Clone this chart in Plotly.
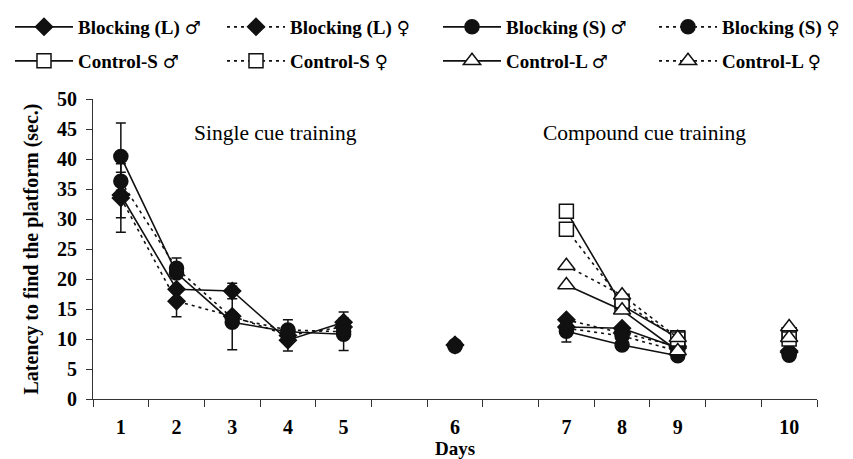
import plotly.graph_objects as go

# ---- data ----
day_labels = ["1", "2", "3", "4", "5", "6", "7", "8", "9", "10"]
gap_after = ["5", "6", "9"]  # an empty category slot follows these days

# Latency (sec.) per day, None = not tested
blocking_L_m = [34.0, 18.3, 18.0, 9.8, 12.8, 9.0, 12.0, 11.8, 8.5, 8.0]
blocking_L_f = [33.5, 16.3, 13.8, 10.6, 12.0, 9.0, 13.2, 11.0, 8.8, 7.8]
blocking_S_m = [40.4, 21.0, 12.8, 11.2, 10.8, 8.8, 11.3, 9.0, 7.2, 7.3]
blocking_S_f = [36.3, 21.8, 13.5, 11.5, 11.2, 8.9, 11.8, 10.5, 8.0, 7.6]
control_S_m = [None, None, None, None, None, None, 31.3, 15.6, 10.2, 10.7]
control_S_f = [None, None, None, None, None, None, 28.3, 16.3, 10.0, 10.0]
control_L_m = [None, None, None, None, None, None, 19.0, 14.8, 8.0, 10.2]
control_L_f = [None, None, None, None, None, None, 22.2, 17.3, 10.2, 12.0]

# standard errors (only those visible)
err_blocking_L_m = [3.8, None, 1.3, 1.8, 1.7, None, 1.1, None, None, None]
err_blocking_L_f = [5.7, 2.6, None, None, None, None, None, None, None, None]
err_blocking_S_m = [5.6, None, None, None, 2.7, None, 1.8, None, None, None]
err_blocking_S_f = [None, 1.7, 5.3, 1.7, None, None, None, None, None, None]

y_ticks = [0, 5, 10, 15, 20, 25, 30, 35, 40, 45, 50]

# ---- category slots ----
slots = []
s = 0
for d in day_labels:
    slots.append(s)
    s += 2 if d in gap_after else 1
n_slots = s


def build(vals, errs=None):
    xs, ys, es = [], [], []
    for i, (slot, v) in enumerate(zip(slots, vals)):
        if xs and slot - xs[-1] > 1:
            xs.append(slot - 1)
            ys.append(None)
            es.append(None)
        xs.append(slot)
        ys.append(v)
        es.append(errs[i] if errs else None)
    return xs, ys, es


INK = "#111111"
FONT = "Liberation Serif"
DASH = "3px,4px"
SYM = '<span style="font-family:\'DejaVu Sans\';font-weight:normal;font-size:18px">{}</span>'
MALE = SYM.format("♂")
FEMALE = SYM.format("♀")

series = [
    ("Blocking (L) " + MALE, blocking_L_m, err_blocking_L_m, "solid", "diamond", INK),
    ("Blocking (L) " + FEMALE, blocking_L_f, err_blocking_L_f, DASH, "diamond", INK),
    ("Blocking (S) " + MALE, blocking_S_m, err_blocking_S_m, "solid", "circle", INK),
    ("Blocking (S) " + FEMALE, blocking_S_f, err_blocking_S_f, DASH, "circle", INK),
    ("Control-S " + MALE, control_S_m, None, "solid", "square", "white"),
    ("Control-S " + FEMALE, control_S_f, None, DASH, "square", "white"),
    ("Control-L " + MALE, control_L_m, None, "solid", "triangle-up", "white"),
    ("Control-L " + FEMALE, control_L_f, None, DASH, "triangle-up", "white"),
]

sizes = {"diamond": 13, "circle": 14, "square": 14, "triangle-up": 15}

# legend placement (pixels in the 853x459 page): 4 columns x 2 rows
leg_cols_px = [10, 222, 438, 654]
leg_rows_px = [8, 42]

fig = go.Figure()
legends = {}
for k, (name, vals, errs, dash, sym, fill) in enumerate(series):
    xs, ys, es = build(vals, errs)
    leg_id = "legend" if k == 0 else f"legend{k + 1}"
    tr = dict(
        x=xs, y=ys, name=name, mode="lines+markers", legend=leg_id,
        showlegend=True,
        line=dict(color=INK, width=1.6, dash=dash),
        marker=dict(symbol=sym, size=sizes[sym], color=fill,
                    line=dict(color=INK, width=1.5)),
        connectgaps=False,
    )
    if errs:
        tr["error_y"] = dict(type="data", array=es, visible=True,
                             color=INK, thickness=1.5, width=5)
    fig.add_trace(go.Scatter(**tr))
    legends[leg_id] = dict(
        orientation="h", xref="container", yref="container",
        x=leg_cols_px[k % 4] / 853, y=1 - leg_rows_px[k // 4] / 459,
        xanchor="left", yanchor="top", itemwidth=58, visible=True,
        font=dict(family=FONT, size=19, color="black", weight="bold"),
        bgcolor="rgba(0,0,0,0)",
    )

axis_font = dict(family=FONT, size=20, color="black", weight="bold")

fig.update_layout(
    width=853, height=459, showlegend=True,
    margin=dict(l=93, r=36, t=99, b=60, autoexpand=False),
    paper_bgcolor="white", plot_bgcolor="white",
    font=dict(family=FONT, color="black"),
    xaxis=dict(
        range=[-0.5, n_slots - 0.5], automargin=False,
        tickmode="array", tickvals=slots, ticktext=day_labels,
        ticks="", ticklabelstandoff=10,
        tickfont=axis_font,
        showline=True, linecolor="#333333", linewidth=1.2,
        showgrid=False, zeroline=False,
        minor=dict(tickmode="linear", tick0=-0.5, dtick=1, ticks="outside",
                   ticklen=7, tickcolor="#333333", tickwidth=1.2, showgrid=False),
        title=dict(text="Days", font=dict(family=FONT, size=19, color="black", weight="bold"),
                   standoff=5),
    ),
    yaxis=dict(
        range=[0, 50], tickmode="array", tickvals=y_ticks, automargin=False,
        ticks="outside", ticklen=6, tickcolor="#333333", tickwidth=1.2,
        tickfont=axis_font, ticklabelstandoff=5,
        showline=True, linecolor="#333333", linewidth=1.2,
        showgrid=False, zeroline=False,
        title=dict(text="Latency to find the platform (sec.)",
                   font=dict(family=FONT, size=20, color="black", weight="bold"),
                   standoff=12),
    ),
    annotations=[
        dict(text="Single cue training", x=2.77, y=44.3, xref="x", yref="y",
             showarrow=False, font=dict(family=FONT, size=21.5, color="black")),
        dict(text="Compound cue training", x=9.41, y=44.3, xref="x", yref="y",
             showarrow=False, font=dict(family=FONT, size=21.5, color="black")),
    ],
    **legends,
)

fig.write_html("out.html")
